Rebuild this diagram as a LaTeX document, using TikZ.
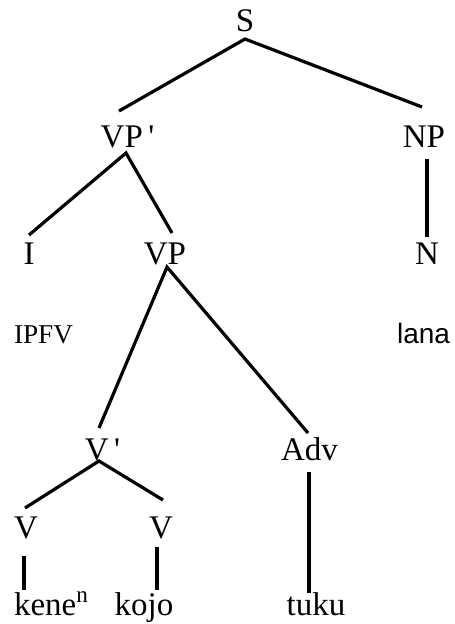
\documentclass[tikz,border=0pt]{standalone}
\usepackage{fontspec}
\setmainfont{Liberation Serif}
\newfontfamily\glossfont{Liberation Sans}
\usetikzlibrary{calc}

\begin{document}
\begin{tikzpicture}[x=0.5pt,y=-0.5pt]

\tikzset{
  catnode/.style={
    inner sep=0pt,
    anchor=base,
    font=\fontsize{16.5}{19}\selectfont
  },
  wordnode/.style={
    catnode
  },
  ipfvnode/.style={
    inner sep=0pt,
    anchor=base,
    font=\fontsize{13.6}{16}\selectfont
  },
  lananode/.style={
    inner sep=0pt,
    anchor=base,
    font=\glossfont\fontsize{14}{16}\selectfont
  },
  branch/.style={
    black,
    line width=1.6pt
  }
}

% Frame of the picture
\useasboundingbox (0,0) rectangle (454,624);

%%%%%%%%%%%%%%%%%%%%%%%%%%%%%%%%%%%%%%%%%%%%%%%%%%%%%%%%%%%%
%% Category labels
%%%%%%%%%%%%%%%%%%%%%%%%%%%%%%%%%%%%%%%%%%%%%%%%%%%%%%%%%%%%
\node[catnode] (S) at (245,32) {S};

\node[catnode] (VPbar) at (127.5,148) {VP\,\textquotesingle};
\node[catnode] (NP) at (424,148) {NP};

\node[catnode] (I) at (29,265) {I};
\node[catnode] (VP) at (165,265) {VP};
\node[catnode] (N) at (427,265) {N};

\node[catnode] (Vbar) at (102.5,460) {V\,\textquotesingle};
\node[catnode] (Adv) at (309.5,460) {Adv};

\node[catnode] (V1) at (26,538) {V};
\node[catnode] (V2) at (161,538) {V};

%%%%%%%%%%%%%%%%%%%%%%%%%%%%%%%%%%%%%%%%%%%%%%%%%%%%%%%%%%%%
%% Words and glosses
%%%%%%%%%%%%%%%%%%%%%%%%%%%%%%%%%%%%%%%%%%%%%%%%%%%%%%%%%%%%
\node[ipfvnode] (IPFV) at (43.5,343) {IPFV};
\node[lananode] (lana) at (423.5,343) {lana};

\node[wordnode] (kene) at (51.5,615) {kene\textsuperscript{n}};
\node[wordnode] (kojo) at (144,615) {kojo};
\node[wordnode] (tuku) at (316,615) {tuku};

%%%%%%%%%%%%%%%%%%%%%%%%%%%%%%%%%%%%%%%%%%%%%%%%%%%%%%%%%%%%
%% Branches
%%%%%%%%%%%%%%%%%%%%%%%%%%%%%%%%%%%%%%%%%%%%%%%%%%%%%%%%%%%%

% S
\draw[branch] ($(VPbar.base)+(-8.5,-37)$) -- ($(S.base)+(0,7)$)
  -- ($(NP.base)+(-2,-41)$);

% VP'
\draw[branch] ($(I.base)+(0,-30)$) -- ($(VPbar.base)+(-1.5,5)$)
  -- ($(VP.base)+(7,-32)$);

% NP
\draw[branch] ($(NP.base)+(3,11)$) -- ($(N.base)+(0,-28)$);

% VP
\draw[branch] ($(Vbar.base)+(-3.5,-32)$) -- ($(VP.base)+(2,2)$)
  -- ($(Adv.base)+(-1.5,-27)$);

% V'
\draw[branch] ($(V1.base)+(-1,-30)$) -- ($(Vbar.base)+(-3.5,1)$)
  -- ($(V2.base)+(2,-38)$);

% Adv
\draw[branch] ($(Adv.base)+(-0.5,12)$) -- ($(tuku.base)+(-7,-22)$);

% V
\draw[branch] ($(V1.base)+(-2,18)$) -- ($(kene.base)+(-27.5,-25)$);
\draw[branch] ($(V2.base)+(-4,9)$) -- ($(kojo.base)+(13,-25)$);

\end{tikzpicture}
\end{document}
